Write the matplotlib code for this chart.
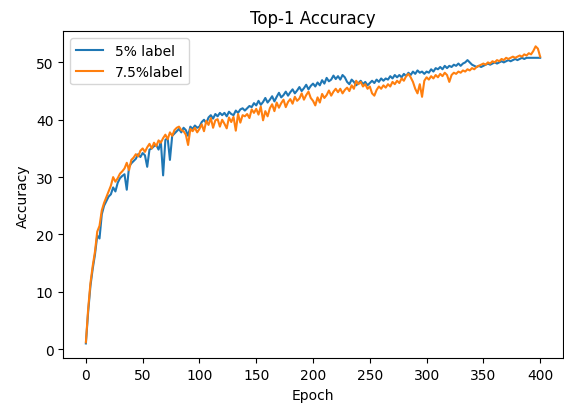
import numpy as np
import matplotlib
matplotlib.use('Agg')
import matplotlib.pyplot as plt

# accuracy read every 2 epochs (0..400)
epochs = np.arange(0, 401, 2)

acc_5 = [1.0, 6.5, 11.0, 14.0, 16.5, 19.8, 19.3, 23.5, 25.0, 25.8, 26.6,
         27.0, 28.2, 27.5, 29.0, 29.8, 30.2, 30.5, 27.8, 31.8, 32.4,
         32.8, 33.2, 34.0, 33.5, 34.2, 33.8, 31.8, 34.8, 35.0, 35.4,
         35.6, 34.8, 36.2, 30.3, 36.5, 36.8, 33.0, 37.2, 37.6, 38.0,
         38.4, 37.8, 38.6, 38.2, 37.2, 38.8, 38.4, 39.0, 38.6, 38.8,
         39.6, 40.0, 39.4, 40.4, 40.8, 40.2, 41.0, 40.6, 41.2, 40.8,
         41.2, 40.6, 41.4, 41.0, 40.8, 41.6, 41.2, 41.8, 42.0, 41.6,
         42.0, 42.4, 42.2, 42.9, 42.5, 43.3, 42.6, 43.1, 43.8, 43.0,
         43.5, 44.1, 43.2, 44.0, 44.7, 43.9, 44.3, 44.9, 44.2, 44.8,
         45.3, 44.6, 45.1, 45.7, 45.0, 45.5, 46.1, 45.3, 45.9, 46.3,
         45.8, 46.5, 46.0, 46.9, 46.3, 47.3, 46.7, 47.0, 47.7, 47.1,
         47.6, 47.0, 47.8, 47.4, 46.6, 46.2, 47.0, 46.6, 46.0, 46.4,
         46.8, 46.2, 46.6, 46.0, 46.4, 46.8, 46.4, 47.0, 46.6, 47.2,
         46.8, 47.2, 47.0, 47.6, 47.2, 47.8, 47.4, 47.8, 47.4, 48.0,
         47.6, 48.2, 47.8, 48.4, 48.0, 48.6, 48.2, 48.4, 48.0, 48.4,
         48.2, 48.8, 48.4, 49.0, 48.8, 49.2, 48.8, 49.4, 49.0, 49.4,
         49.2, 49.6, 49.4, 49.8, 49.4, 49.8, 50.0, 50.4, 50.0, 49.6,
         49.4, 49.2, 49.4, 49.2, 49.4, 49.6, 49.8, 49.6, 49.8, 50.0,
         49.8, 50.0, 50.2, 50.0, 50.2, 50.4, 50.2, 50.4, 50.6, 50.4,
         50.6, 50.8, 50.6, 50.8, 50.8, 50.8, 50.8, 50.8, 50.8, 50.8]

acc_75 = [1.2, 7.0, 11.5, 14.5, 17.0, 20.5, 21.5, 24.2, 25.5, 26.5, 27.5,
          28.5, 30.0, 29.2, 29.8, 30.6, 31.0, 31.5, 32.5, 31.2, 33.0,
          33.4, 34.0, 33.6, 34.6, 35.0, 34.4, 35.2, 35.8, 35.0, 36.0,
          35.4, 36.4, 36.0, 36.8, 37.4, 36.6, 37.8, 37.2, 38.2, 38.6,
          38.8, 38.2, 38.0, 37.4, 35.6, 38.4, 38.0, 38.6, 37.8, 38.4,
          39.2, 38.0, 39.8, 39.1, 40.3, 38.6, 39.9, 40.1, 38.8, 40.0,
          39.3, 38.5, 40.4, 39.6, 40.5, 38.1, 41.0, 39.5, 40.8, 40.6,
          41.0, 40.3, 41.8, 41.2, 41.9, 40.9, 42.3, 39.9, 41.5, 40.6,
          42.0, 42.7, 41.5, 43.0, 42.1, 42.9, 43.5, 42.2, 43.1, 43.6,
          42.8, 44.0, 43.3, 43.7, 44.6, 43.5, 44.3, 44.9, 43.8, 43.3,
          42.5, 43.9, 43.0, 44.5, 43.8, 44.3, 45.1, 44.2, 44.9, 45.4,
          44.8, 45.4, 44.6, 45.2, 45.6, 45.0, 46.0, 45.4, 46.8, 46.2,
          46.6, 45.8, 46.2, 45.4, 45.8, 44.6, 44.2, 45.2, 45.8, 45.4,
          46.0, 45.6, 46.2, 45.8, 46.6, 46.2, 46.8, 46.4, 47.2, 46.8,
          47.6, 48.0, 47.4, 46.6, 45.4, 44.6, 46.2, 44.0, 46.8, 47.4,
          47.0, 47.6, 47.2, 47.8, 47.4, 48.0, 47.6, 48.2, 47.8, 46.6,
          47.8, 48.2, 48.0, 48.4, 48.2, 48.6, 48.4, 48.8, 48.6, 49.0,
          48.8, 49.2, 49.4, 49.6, 49.8, 49.6, 50.0, 49.8, 50.2, 50.0,
          50.4, 50.2, 50.6, 50.4, 50.8, 50.6, 50.8, 51.0, 50.8, 51.0,
          51.2, 51.0, 51.4, 51.2, 51.6, 51.4, 52.0, 52.8, 52.4, 51.0]

fig = plt.figure(figsize=(5.64, 4.06), dpi=100)
ax = fig.add_axes([0.112, 0.115, 0.886, 0.805])

ax.plot(epochs, acc_5, label='5% label')
ax.plot(epochs, acc_75, label='7.5%label')

ax.set_title('Top-1 Accuracy')
ax.set_xlabel('Epoch')
ax.set_ylabel('Accuracy')
ax.set_xticks([0, 50, 100, 150, 200, 250, 300, 350, 400])
ax.legend(loc='upper left')

plt.savefig('out.png', dpi=100)
